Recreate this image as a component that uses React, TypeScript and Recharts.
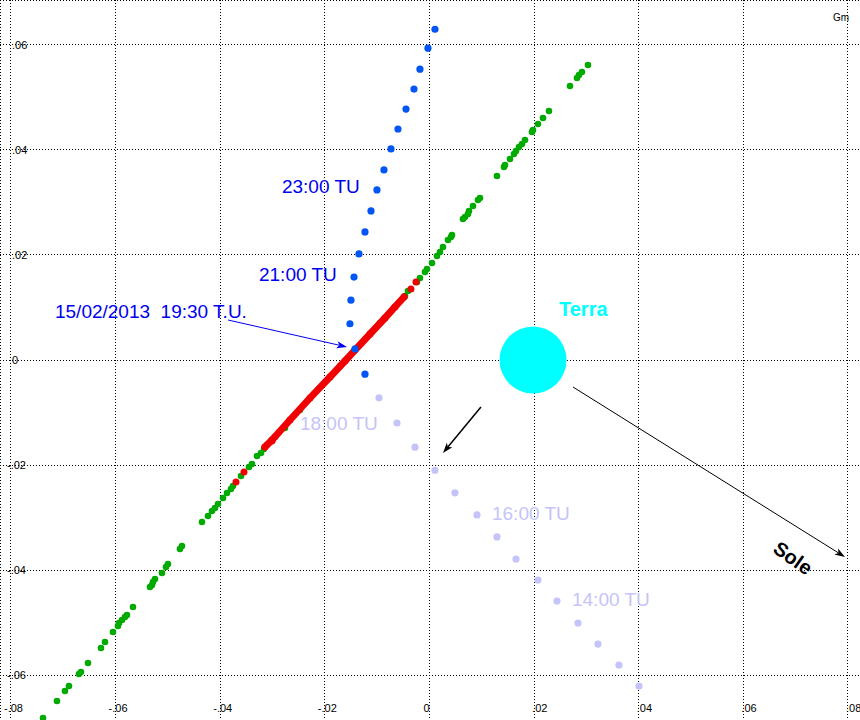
import React from "react";
import {
  ScatterChart,
  Scatter,
  XAxis,
  YAxis,
  CartesianGrid,
  ReferenceLine,
} from "recharts";

// axis ticks (Gm)
const xTicks = [-0.08, -0.06, -0.04, -0.02, 0, 0.02, 0.04, 0.06, 0.08];
const yTicks = [-0.06, -0.04, -0.02, 0, 0.02, 0.04, 0.06];

// trajectory as seen from the ground track (green), dense part in red
const greenPts = [
  { x: 0.0303, y: 0.0562 }, { x: 0.02915, y: 0.05486 }, { x: 0.02858, y: 0.05429 },
  { x: 0.0282, y: 0.05372 }, { x: 0.02686, y: 0.05219 }, { x: 0.02284, y: 0.04743 },
  { x: 0.0217, y: 0.0461 }, { x: 0.02074, y: 0.04495 }, { x: 0.01979, y: 0.04381 },
  { x: 0.01959, y: 0.04343 }, { x: 0.01826, y: 0.04191 }, { x: 0.01768, y: 0.04114 },
  { x: 0.01711, y: 0.04057 }, { x: 0.01654, y: 0.03981 }, { x: 0.01615, y: 0.03924 },
  { x: 0.01539, y: 0.03829 }, { x: 0.01443, y: 0.03714 }, { x: 0.01424, y: 0.03676 },
  { x: 0.0129, y: 0.03505 }, { x: 0.00965, y: 0.03086 }, { x: 0.00927, y: 0.03048 },
  { x: 0.00832, y: 0.02933 }, { x: 0.00755, y: 0.02838 }, { x: 0.00736, y: 0.02781 },
  { x: 0.00679, y: 0.02724 }, { x: 0.0064, y: 0.02686 }, { x: 0.0043, y: 0.02381 },
  { x: 0.00411, y: 0.02343 }, { x: 0.00354, y: 0.02286 }, { x: 0.00258, y: 0.02152 },
  { x: 0.00201, y: 0.02057 }, { x: 0.00143, y: 0.01981 }, { x: 0.00048, y: 0.01848 },
  { x: -0.00048, y: 0.01733 }, { x: -0.00086, y: 0.01676 }, { x: -0.00182, y: 0.01562 },
  { x: -0.00239, y: 0.01486 }, { x: -0.00411, y: 0.01314 }, { x: -0.00468, y: 0.01219 },
  { x: -0.00946, y: 0.00705 }, { x: -0.01711, y: -0.00114 }, { x: -0.02476, y: -0.00952 },
  { x: -0.02762, y: -0.01295 }, { x: -0.02953, y: -0.01467 },
  { x: -0.03106, y: -0.01619 }, { x: -0.03164, y: -0.01695 }, { x: -0.03221, y: -0.01771 },
  { x: -0.03298, y: -0.01829 }, { x: -0.03393, y: -0.01981 }, { x: -0.0345, y: -0.02038 },
  { x: -0.03603, y: -0.0221 }, { x: -0.03756, y: -0.024 }, { x: -0.03795, y: -0.02457 },
  { x: -0.03871, y: -0.02533 }, { x: -0.03947, y: -0.02629 }, { x: -0.04043, y: -0.02743 },
  { x: -0.041, y: -0.02819 }, { x: -0.04158, y: -0.02876 }, { x: -0.04234, y: -0.02971 },
  { x: -0.04349, y: -0.03086 }, { x: -0.04731, y: -0.03543 }, { x: -0.0477, y: -0.036 },
  { x: -0.04999, y: -0.03886 }, { x: -0.05037, y: -0.03943 }, { x: -0.05114, y: -0.04057 },
  { x: -0.05247, y: -0.04172 }, { x: -0.05286, y: -0.04229 }, { x: -0.05305, y: -0.04286 },
  { x: -0.05343, y: -0.04324 }, { x: -0.05668, y: -0.04705 }, { x: -0.05783, y: -0.04857 },
  { x: -0.05821, y: -0.04895 }, { x: -0.05878, y: -0.04952 }, { x: -0.05936, y: -0.0501 },
  { x: -0.05955, y: -0.05067 }, { x: -0.0605, y: -0.05181 }, { x: -0.06203, y: -0.05372 },
  { x: -0.0628, y: -0.05486 }, { x: -0.06528, y: -0.05772 }, { x: -0.06662, y: -0.05943 },
  { x: -0.067, y: -0.05981 }, { x: -0.06891, y: -0.0621 }, { x: -0.06968, y: -0.06305 },
  { x: -0.07121, y: -0.06495 }, { x: -0.07388, y: -0.06819 },
];

const redBand = [
  { x: -0.03145, y: -0.01657 }, { x: -0.03011, y: -0.01524 }, { x: -0.02667, y: -0.01143 },
  { x: -0.02284, y: -0.00724 }, { x: -0.01902, y: -0.00324 }, { x: -0.01615, y: -0.00019 },
  { x: -0.01424, y: 0.0019 }, { x: -0.01137, y: 0.00495 }, { x: -0.00851, y: 0.008 },
  { x: -0.0066, y: 0.0101 }, { x: -0.00487, y: 0.012 },
];

const redDots = [
  { x: -0.03011, y: -0.01543 }, { x: -0.03546, y: -0.02133 }, { x: -0.03699, y: -0.02324 },
  { x: -0.00354, y: 0.01352 }, { x: -0.00258, y: 0.01486 },
];

// half-hour positions before 19:00 TU (light) and after (blue)
const beforePts = [
  { x: -0.00965, y: -0.0072 }, { x: -0.00621, y: -0.012 }, { x: -0.00277, y: -0.0166 },
  { x: 0.00105, y: -0.021 }, { x: 0.00487, y: -0.0253 }, { x: 0.00908, y: -0.0295 },
  { x: 0.0129, y: -0.0337 }, { x: 0.01654, y: -0.0379 }, { x: 0.02074, y: -0.0419 },
  { x: 0.02437, y: -0.0459 }, { x: 0.02839, y: -0.0501 }, { x: 0.03221, y: -0.0541 },
  { x: 0.03622, y: -0.0581 }, { x: 0.04005, y: -0.0621 },
];

const afterPts = [
  { x: 0.00105, y: 0.063 }, { x: -0.00029, y: 0.0594 }, { x: -0.00182, y: 0.0554 },
  { x: -0.00296, y: 0.0516 }, { x: -0.00449, y: 0.0478 }, { x: -0.00602, y: 0.044 },
  { x: -0.00736, y: 0.0402 }, { x: -0.0087, y: 0.0362 }, { x: -0.01004, y: 0.0324 },
  { x: -0.01118, y: 0.0284 }, { x: -0.01233, y: 0.0244 }, { x: -0.01348, y: 0.0202 },
  { x: -0.01443, y: 0.0158 }, { x: -0.01501, y: 0.0114 }, { x: -0.0152, y: 0.0069 },
  { x: -0.01424, y: 0.0021 }, { x: -0.01233, y: -0.0027 },
];

const earthPos = [{ x: 0.0198, y: 0 }];

const arrows = [
  { from: { x: -0.03852, y: 0.00762 }, to: { x: -0.01577, y: 0.00248 }, color: "#0000F0", w: 1 },
  { from: { x: 0.00984, y: -0.00895 }, to: { x: 0.00258, y: -0.01771 }, color: "#000", w: 1.5 },
  { from: { x: 0.02743, y: -0.00514 }, to: { x: 0.07943, y: -0.03752 }, color: "#000", w: 1 },
];

const labels = [
  { x: -0.07159, y: 0.008, text: "15/02/2013  19:30 T.U.", color: "#0000F0", size: 19 },
  { x: -0.03259, y: 0.01505, text: "21:00 TU", color: "#0000F0", size: 19 },
  { x: -0.0282, y: 0.03181, text: "23:00 TU", color: "#0000F0", size: 19 },
  { x: -0.02476, y: -0.01333, text: "18:00 TU", color: "#C4C4FA", size: 19 },
  { x: 0.01195, y: -0.03048, text: "16:00 TU", color: "#C4C4FA", size: 19 },
  { x: 0.02724, y: -0.04686, text: "14:00 TU", color: "#C4C4FA", size: 19 },
  { x: 0.02476, y: 0.00838, text: "Terra", color: "#00FFFF", size: 20, bold: true },
  { x: 0.06949, y: -0.03771, text: "Sole", color: "#000", size: 20, bold: true, rotate: 35 },
  { x: 0.07713, y: 0.06457, text: "Gm", color: "#000", size: 10 },
];

const FONT = "'Liberation Sans', Arial, sans-serif";

const fmt = (v: number) =>
  v === 0 ? "0" : (v < 0 ? "-" : "") + Math.abs(v).toFixed(2).replace(/^0/, "");

const renderXTick = (p: any) => {
  const v = p.payload.value;
  const dx = v < 0 ? -7 : v === 0 ? -6 : -2;
  return (
    <text x={p.x + dx} y={712} fontSize={11} fontFamily={FONT} fill="#000">
      {fmt(v)}
    </text>
  );
};

const renderYTick = (p: any) => {
  const v = p.payload.value;
  return (
    <text x={12 - (v < 0 ? 5 : 0)} y={p.y + 4} fontSize={11} fontFamily={FONT} fill="#000">
      {fmt(v)}
    </text>
  );
};

const dot = (r: number, fill: string) => (p: any) =>
  <circle cx={p.cx} cy={p.cy} r={r} fill={fill} />;

const arrowShape = (color: string, w: number) => (p: any) => {
  const { x1, y1, x2, y2 } = p;
  const a = Math.atan2(y2 - y1, x2 - x1);
  const len = 11;
  const sp = 0.33;
  const ax = x2 - len * Math.cos(a - sp);
  const ay = y2 - len * Math.sin(a - sp);
  const bx = x2 - len * Math.cos(a + sp);
  const by = y2 - len * Math.sin(a + sp);
  const mx = x2 - len * 0.7 * Math.cos(a);
  const my = y2 - len * 0.7 * Math.sin(a);
  return (
    <g>
      <line x1={x1} y1={y1} x2={mx} y2={my} stroke={color} strokeWidth={w} />
      <polygon points={`${x2},${y2} ${ax},${ay} ${mx},${my} ${bx},${by}`} fill={color} />
    </g>
  );
};

const labelShape = (p: any) => {
  const d = p.payload;
  if (d.rotate) {
    return (
      <text
        x={p.cx}
        y={p.cy}
        fontSize={d.size}
        fontFamily={FONT}
        fontWeight="bold"
        fill={d.color}
        textAnchor="middle"
        dominantBaseline="central"
        transform={`rotate(${d.rotate}, ${p.cx}, ${p.cy})`}
      >
        {d.text}
      </text>
    );
  }
  return (
    <text
      x={p.cx}
      y={p.cy}
      fontSize={d.size}
      fontFamily={FONT}
      fontWeight={d.bold ? "bold" : "normal"}
      fill={d.color}
      style={{ whiteSpace: "pre" }}
    >
      {d.text}
    </text>
  );
};

export default function App() {
  return (
    <div style={{ position: "absolute", left: 0, top: 0, width: 860, height: 720, background: "#fff" }}>
      <ScatterChart width={860} height={720} margin={{ top: 0, right: 0, bottom: 0, left: 0 }}>
        <CartesianGrid stroke="#000" strokeDasharray="1 2" shapeRendering="crispEdges" />
        <XAxis
          type="number"
          dataKey="x"
          domain={[-0.0821, 0.0823]}
          ticks={xTicks}
          interval={0}
          allowDataOverflow
          mirror
          axisLine={false}
          tickLine={false}
          tick={renderXTick}
        />
        <YAxis
          type="number"
          dataKey="y"
          domain={[-0.06857, 0.06857]}
          ticks={yTicks}
          interval={0}
          allowDataOverflow
          mirror
          axisLine={false}
          tickLine={false}
          tick={renderYTick}
        />
        <Scatter data={beforePts} shape={dot(3.6, "#C4C4FA")} isAnimationActive={false} />
        <Scatter data={greenPts} shape={dot(3.3, "#00AA00")} isAnimationActive={false} />
        <Scatter
          data={redBand}
          line={{ stroke: "#F00000", strokeWidth: 7, strokeLinecap: "round" }}
          shape={dot(3.5, "#F00000")}
          isAnimationActive={false}
        />
        <Scatter data={redDots} shape={dot(3.5, "#F00000")} isAnimationActive={false} />
        <Scatter data={afterPts} shape={dot(3.6, "#0055F5")} isAnimationActive={false} />
        <Scatter data={earthPos} shape={dot(33.5, "#00FFFF")} isAnimationActive={false} />
        {arrows.map((a, i) => (
          <ReferenceLine
            key={i}
            segment={[a.from, a.to]}
            ifOverflow="visible"
            shape={arrowShape(a.color, a.w)}
          />
        ))}
        <Scatter data={labels} shape={labelShape} isAnimationActive={false} />
      </ScatterChart>
    </div>
  );
}
